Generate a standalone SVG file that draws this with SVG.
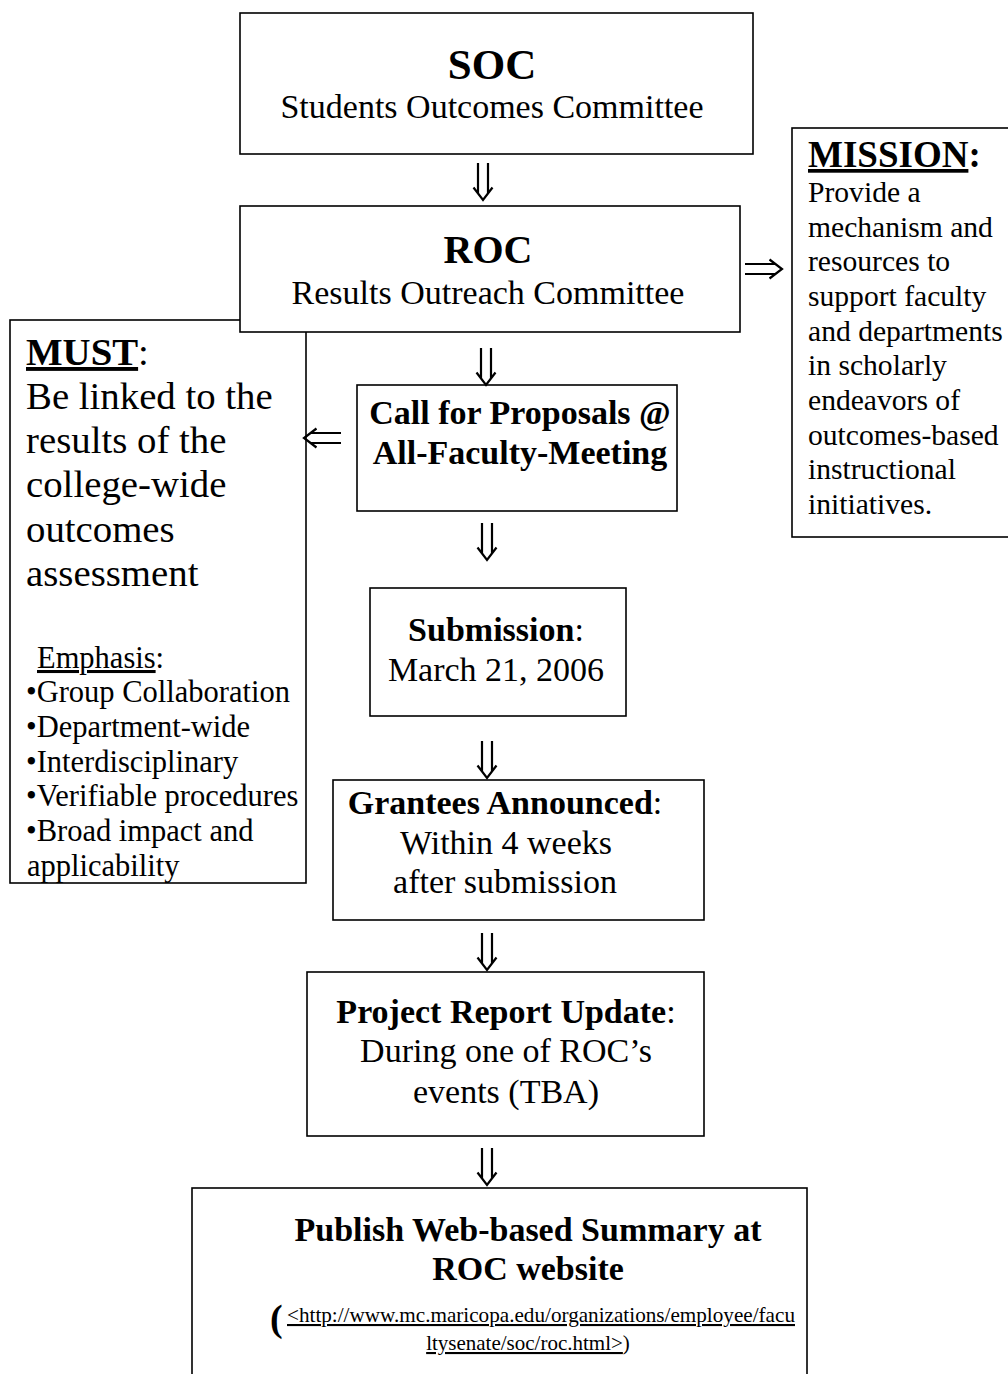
<svg xmlns="http://www.w3.org/2000/svg" xmlns:xlink="http://www.w3.org/1999/xlink" width="1008" height="1374" viewBox="0 0 1008 1374">
<style>
  .box { fill: #ffffff; stroke: #000000; stroke-width: 1.6; }
  .arr { fill: none; stroke: #000000; stroke-width: 2.2; stroke-linecap: butt; }
  text { font-family: "Liberation Serif", "Times New Roman", serif; fill: #000000; }
  .b { font-weight: bold; }
  .c { text-anchor: middle; }
  .u { text-decoration: underline; }
  .t34 { font-size: 34px; }
  .t29 { font-size: 29.6px; }
  .t30 { font-size: 30.5px; }
  .t38 { font-size: 38.8px; }
</style>
<defs>
  <path id="darr" class="arr" d="M-5,0 V30 M5,0 V30 M-9.5,24.5 L0,37 L9.5,24.5"/>
</defs>
<rect width="1008" height="1374" fill="#ffffff"/>

<g id="must">
  <rect class="box" x="10" y="320" width="296" height="563"/>
  <text x="26" y="365" class="t38"><tspan class="b u">MUST</tspan>:</text>
  <text x="26" y="409" class="t38">Be linked to the</text>
  <text x="26" y="453" class="t38">results of the</text>
  <text x="26" y="497" class="t38">college-wide</text>
  <text x="26" y="542" class="t38">outcomes</text>
  <text x="26" y="586" class="t38">assessment</text>
  <text x="37" y="668" class="t30"><tspan class="u">Emphasis</tspan>:</text>
  <text x="26" y="702" class="t30">•Group Collaboration</text>
  <text x="26" y="737" class="t30">•Department-wide</text>
  <text x="26" y="772" class="t30">•Interdisciplinary</text>
  <text x="26" y="806" class="t30">•Verifiable procedures</text>
  <text x="26" y="841" class="t30">•Broad impact and</text>
  <text x="27" y="876" class="t30">applicability</text>
</g>

<g id="soc">
  <rect class="box" x="240" y="13" width="513" height="141"/>
  <text x="492" y="79" class="b c" font-size="43">SOC</text>
  <text x="492" y="118" class="c t34">Students Outcomes Committee</text>
</g>

<g id="roc">
  <rect class="box" x="240" y="206" width="500" height="126"/>
  <text x="488" y="263" class="b c" font-size="40">ROC</text>
  <text x="488" y="304" class="c t34">Results Outreach Committee</text>
</g>

<g id="mission">
  <rect class="box" x="792" y="128" width="230" height="409"/>
  <text x="808" y="167" font-size="37"><tspan class="b u">MISSION</tspan><tspan class="b">:</tspan></text>
  <text x="808" y="202" class="t29">Provide a</text>
  <text x="808" y="237" class="t29">mechanism and</text>
  <text x="808" y="271" class="t29">resources to</text>
  <text x="808" y="306" class="t29">support faculty</text>
  <text x="808" y="341" class="t29">and departments</text>
  <text x="808" y="375" class="t29">in scholarly</text>
  <text x="808" y="410" class="t29">endeavors of</text>
  <text x="808" y="445" class="t29">outcomes-based</text>
  <text x="808" y="479" class="t29">instructional</text>
  <text x="808" y="514" class="t29">initiatives.</text>
</g>

<g id="call">
  <rect class="box" x="357" y="385" width="320" height="126"/>
  <text x="520" y="424" class="b c" font-size="34">Call for Proposals @</text>
  <text x="520" y="464" class="b c" font-size="34">All-Faculty-Meeting</text>
</g>

<g id="submission">
  <rect class="box" x="370" y="588" width="256" height="128"/>
  <text x="496" y="641" class="c t34"><tspan class="b">Submission</tspan>:</text>
  <text x="496" y="681" class="c t34">March 21, 2006</text>
</g>

<g id="grantees">
  <rect class="box" x="333" y="780" width="371" height="140"/>
  <text x="505" y="814" class="c t34"><tspan class="b">Grantees Announced</tspan>:</text>
  <text x="506" y="854" class="c t34">Within 4 weeks</text>
  <text x="505" y="893" class="c t34">after submission</text>
</g>

<g id="project">
  <rect class="box" x="307" y="972" width="397" height="164"/>
  <text x="506" y="1023" class="c t34"><tspan class="b">Project Report Update</tspan>:</text>
  <text x="506" y="1062" class="c t34">During one of ROC’s</text>
  <text x="506" y="1103" class="c t34">events (TBA)</text>
</g>

<g id="publish">
  <rect class="box" x="192" y="1188" width="615" height="200"/>
  <text x="528" y="1241" class="b c t34">Publish Web-based Summary at</text>
  <text x="528" y="1280" class="b c t34">ROC website</text>
  <text x="270" y="1331" font-size="38" font-weight="bold">(</text>
  <text x="287" y="1322" font-size="21" class="u" textLength="508" lengthAdjust="spacingAndGlyphs">&lt;http://www.mc.maricopa.edu/organizations/employee/facu</text>
  <text x="528" y="1350" font-size="21" class="c"><tspan class="u">ltysenate/soc/roc.html&gt;</tspan>)</text>
</g>

<g id="connectors">
  <use xlink:href="#darr" transform="translate(483,163)"/>
  <use xlink:href="#darr" transform="translate(486,348)"/>
  <use xlink:href="#darr" transform="translate(487,523)"/>
  <use xlink:href="#darr" transform="translate(487,741)"/>
  <use xlink:href="#darr" transform="translate(487,933)"/>
  <use xlink:href="#darr" transform="translate(487,1148)"/>
  <use xlink:href="#darr" transform="translate(745,269) rotate(-90)"/>
  <use xlink:href="#darr" transform="translate(341,438) rotate(90)"/>
</g>
</svg>
